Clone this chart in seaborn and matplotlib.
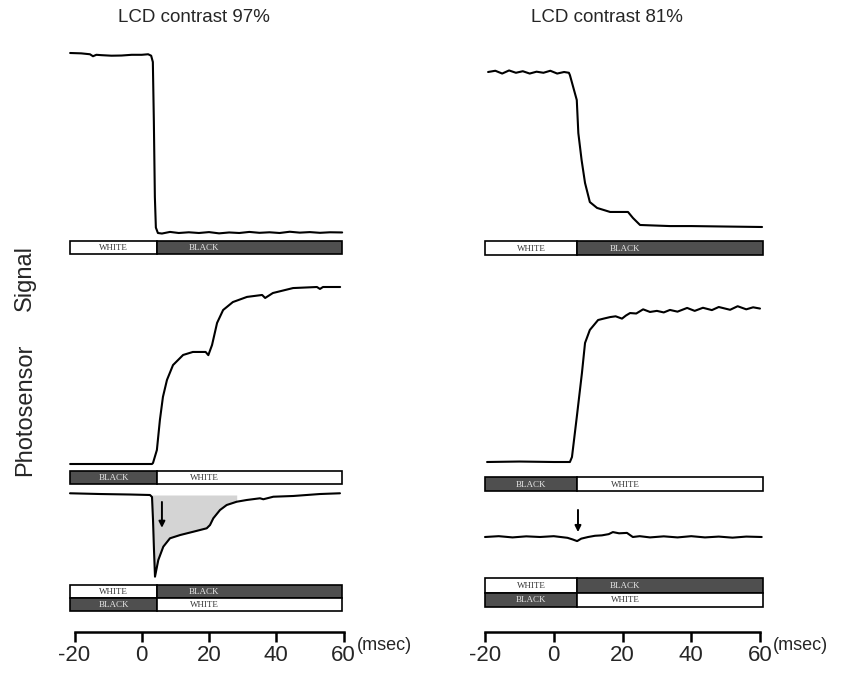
import numpy as np
import seaborn as sns
import matplotlib
matplotlib.use('Agg')
import matplotlib.pyplot as plt

sns.set_style('white')
plt.rcParams['font.family'] = ['Liberation Sans', 'DejaVu Sans']

# ---- data (time in msec, signal in normalised units) ----
titles = ['LCD contrast 97%', 'LCD contrast 81%']
ticks = [-20, 0, 20, 40, 60]

# LCD contrast 97 %
l_top_t = [-21.3, -18, -15.4, -14.5, -13.5, -12, -9, -6, -3, 0, 1.9, 2.8, 3.3, 3.6, 3.9, 4.2, 4.8, 6,
           8.4, 11, 14, 17, 20, 23, 26, 29, 32, 35, 38, 41, 44, 47, 50, 53, 56, 59.6]
l_top_v = [1.0, 0.998, 0.993, 0.982, 0.99, 0.988, 0.985, 0.986, 0.99, 0.99, 0.993, 0.985, 0.95, 0.62,
           0.2, 0.03, 0.0, -0.003, 0.006, 0.0, 0.004, 0.0, 0.005, -0.002, 0.003, 0.0, 0.006, 0.001,
           0.004, 0.0, 0.007, 0.002, 0.005, 0.001, 0.004, 0.003]

l_mid_t = [-21.3, -10, 0, 3.05, 3.35, 4.5, 5.4, 6.3, 7.5, 9.3, 12.3, 15.2, 19.0, 19.8, 20.9, 22.4,
           24.2, 27.1, 31.3, 35.8, 36.7, 39.0, 45.0, 52.1, 53.0, 53.9, 59.0]
l_mid_v = [0, 0, 0, 0, 0.006, 0.079, 0.249, 0.379, 0.475, 0.559, 0.616, 0.633, 0.633, 0.615, 0.672,
           0.797, 0.870, 0.915, 0.944, 0.955, 0.938, 0.966, 0.994, 1.0, 0.989, 1.0, 1.0]

l_bot_t = [-21.34, -12.42, -3.49, 2.45, 3.05, 3.35, 3.64, 3.94, 4.92, 6.41, 8.39, 11.43, 15.32,
           19.32, 20.30, 21.28, 23.27, 25.26, 28.24, 31.21, 35.17, 36.15, 39.12, 45.07, 53.0, 58.95]
l_bot_v = [0.021, 0.012, 0.006, 0.0, -0.024, -0.305, -0.671, -0.996, -0.793, -0.630, -0.528, -0.488,
           -0.448, -0.406, -0.366, -0.284, -0.183, -0.122, -0.082, -0.061, -0.040, -0.052, -0.021,
           -0.012, 0.012, 0.021]

# LCD contrast 81 %
r_top_t = [-19.1, -17, -15, -13, -11, -9, -7, -5, -3, -1, 1, 3, 4.4, 4.7, 6.7, 7.15, 8.1, 9.1, 10.5,
           12.6, 16.4, 21.6, 23.05, 25.1, 33.8, 40, 50, 60.6]
r_top_v = [1.0, 1.008, 0.99, 1.01, 0.995, 1.005, 0.99, 1.002, 0.995, 1.008, 0.99, 1.0, 0.995, 0.98,
           0.819, 0.606, 0.432, 0.284, 0.161, 0.123, 0.097, 0.097, 0.058, 0.013, 0.006, 0.006, 0.003, 0.0]

r_mid_t = [-19.4, -10, 0, 4.7, 5.3, 6.7, 8.2, 9.1, 10.5, 12.9, 14.5, 16.4, 18, 19.85, 21, 22.2, 24,
           26.0, 28.0, 30, 32, 33.8, 36, 38.8, 41, 43.4, 46, 48, 51.3, 53.5, 56, 58, 60]
r_mid_v = [0, 0.003, 0, 0, 0.032, 0.29, 0.574, 0.768, 0.852, 0.916, 0.925, 0.935, 0.94, 0.925, 0.945,
           0.961, 0.958, 0.985, 0.968, 0.975, 0.965, 0.981, 0.97, 0.994, 0.975, 0.995, 0.98, 1.0,
           0.982, 1.005, 0.985, 0.998, 0.99]

r_bot_t = [-20, -16, -12, -8, -4, 0, 2, 4, 5.5, 6.8, 8, 10, 12, 14, 16, 17.2, 19, 21.3, 23, 25, 28,
           32, 36, 40, 44, 48, 52, 56, 60.5]
r_bot_v = [0.0, 0.01, -0.005, 0.008, 0.0, 0.01, 0.0, -0.01, -0.03, -0.05, -0.02, 0.0, 0.015, 0.02,
           0.035, 0.06, 0.045, 0.05, 0.0, 0.01, -0.005, 0.008, -0.005, 0.01, -0.005, 0.005, -0.008,
           0.005, 0.0]

# LCD state bars: switch time and recording window (msec)
l_switch, r_switch = 4.5, 6.8
l_window = (-21.3, 59.6)
r_window = (-20.0, 60.9)
bar_rows_top = [['WHITE', 'BLACK']]
bar_rows_mid = [['BLACK', 'WHITE']]
bar_rows_bot = [['WHITE', 'BLACK'], ['BLACK', 'WHITE']]

# shaded area and arrows (msec, signal)
l_shade = (3.0, 28.5)
l_arrow = (6.0, -0.085, -0.40)
r_arrow = (7.05, 0.33, 0.06)

# ---- layout ----
W, H = 860, 674
fig = plt.figure(figsize=(W / 100, H / 100), dpi=100)

cols = [dict(left=55, right=355, p20=74.5, k=3.3625),
        dict(left=465, right=775, p20=485.0, k=3.4375)]


def make_ax(col, top, bottom, zero=None, unit=None):
    ax = fig.add_axes([col['left'] / W, 1 - bottom / H,
                       (col['right'] - col['left']) / W, (bottom - top) / H])
    ax.set_xlim(-20 + (col['left'] - col['p20']) / col['k'],
                -20 + (col['right'] - col['p20']) / col['k'])
    if zero is not None:
        ax.set_ylim((zero - bottom) / unit, (zero - top) / unit)
    ax.set_axis_off()
    return ax


def trace(ax, t, v):
    sns.lineplot(x=t, y=v, ax=ax, color='black', lw=1.5, estimator=None, sort=False)


def state_bar(ax, rows, switch, window):
    ax.set_ylim(len(rows), 0)
    for i, (a, b) in enumerate(rows):
        segs = [(window[0], switch, a), (switch, window[1], b)]
        for j, (s, e, name) in enumerate(segs):
            dark = name == 'BLACK'
            ax.barh(i + 0.5, e - s, left=s, height=1, color='#4f4f4f' if dark else 'white',
                    edgecolor='black', lw=1.2, clip_on=False)
            xt = (s + e) / 2 if j == 0 else s + 14
            ax.text(xt, i + 0.55, name, ha='center', va='center', fontsize=6.5,
                    family='Liberation Serif', color='#e6e6e6' if dark else '#333333')


traces = [(l_top_t, l_top_v, l_mid_t, l_mid_v, l_bot_t, l_bot_v),
          (r_top_t, r_top_v, r_mid_t, r_mid_v, r_bot_t, r_bot_v)]
geo = [dict(top=(40, 240, 233, 180), mid=(275, 470, 464, 177), bot=(485, 584, 495, 82),
            b1=(241, 254), b2=(471, 484), b3=(585, 611)),
       dict(top=(60, 236, 227, 155), mid=(295, 470, 462, 155), bot=(490, 560, 537, 82),
            b1=(241, 255), b2=(477, 491), b3=(578, 607))]
switches = [l_switch, r_switch]
windows = [l_window, r_window]
arrows = [l_arrow, r_arrow]
title_x = [194, 607]

for c in range(2):
    col, g = cols[c], geo[c]
    tt, tv, mt, mv, bt, bv = traces[c]

    ax = make_ax(col, *g['top'])
    trace(ax, tt, tv)
    ax = make_ax(col, *g['mid'])
    trace(ax, mt, mv)
    ax = make_ax(col, *g['bot'])
    trace(ax, bt, bv)
    if c == 0:
        t_arr, v_arr = np.array(bt), np.array(bv)
        mask = (t_arr >= l_shade[0]) & (t_arr <= l_shade[1])
        ax.fill_between(t_arr, v_arr, 0, where=mask, color='#d4d4d4', lw=0, zorder=0)
    at, a0, a1 = arrows[c]
    ax.annotate('', xy=(at, a1), xytext=(at, a0),
                arrowprops=dict(arrowstyle='-|>', color='black', lw=1.4, mutation_scale=9,
                                shrinkA=0, shrinkB=0))

    state_bar(make_ax(col, *g['b1']), bar_rows_top, switches[c], windows[c])
    state_bar(make_ax(col, *g['b2']), bar_rows_mid, switches[c], windows[c])
    state_bar(make_ax(col, *g['b3']), bar_rows_bot, switches[c], windows[c])

    # time axis
    ax = make_ax(col, 600, 632)
    ax.set_axis_on()
    for s in ['top', 'left', 'right']:
        ax.spines[s].set_visible(False)
    ax.spines['bottom'].set_bounds(ticks[0], ticks[-1])
    ax.spines['bottom'].set_linewidth(1.8)
    ax.spines['bottom'].set_color('black')
    ax.set_yticks([])
    ax.set_xticks(ticks)
    ax.set_xticklabels([str(t) for t in ticks])
    ax.tick_params(axis='x', direction='out', length=7.5, width=1.8, color='black',
                   labelsize=16, pad=2, bottom=True)
    ax.patch.set_alpha(0)
    fig.text((col['p20'] + 80 * col['k'] + 13) / W, 1 - 645 / H, '(msec)', fontsize=13,
             ha='left', va='center')

    fig.text(title_x[c] / W, 1 - 18 / H, titles[c], fontsize=13.5, ha='center', va='center')

fig.text(25 / W, 1 - 278 / H, 'Signal', rotation=90, fontsize=17, ha='center', va='center')
fig.text(25 / W, 1 - 410 / H, 'Photosensor', rotation=90, fontsize=17, ha='center', va='center')

fig.savefig('out.png', dpi=100)
